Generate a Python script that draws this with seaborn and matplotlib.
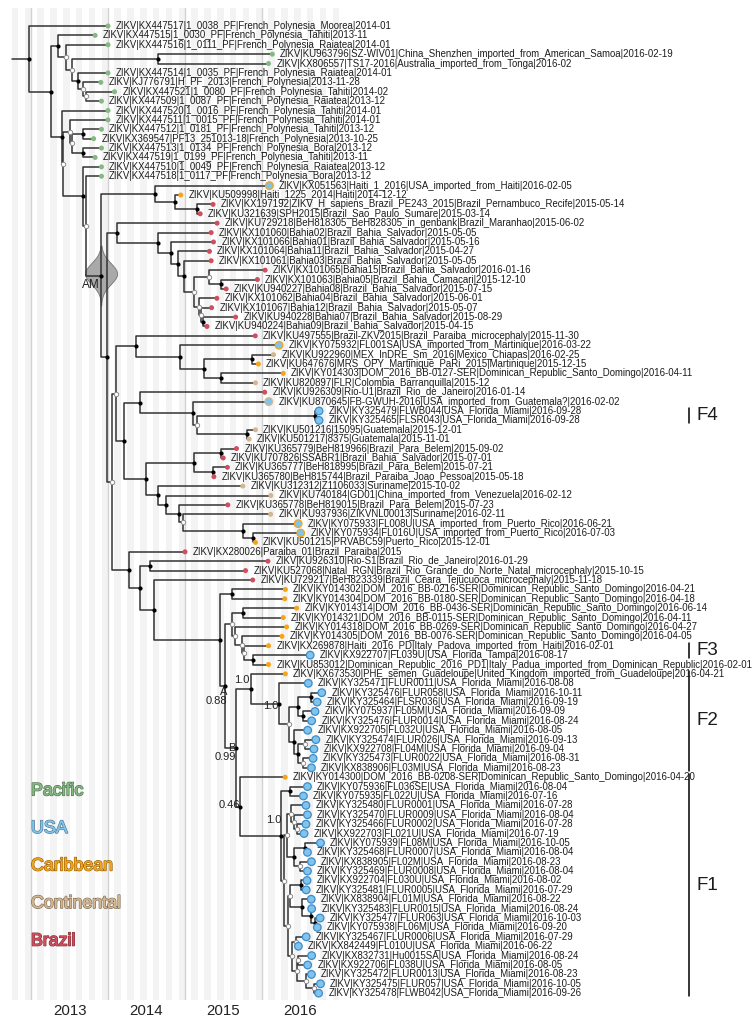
import re
import numpy as np
import pandas as pd
import matplotlib
matplotlib.use("Agg")
import matplotlib.pyplot as plt
import matplotlib.patheffects as pe
import matplotlib.transforms as mtrans
from matplotlib.colors import to_rgb
import seaborn as sns

# ---- tips (top to bottom) ----
tip_acc = [
    "KX447517", "KX447515", "KX447516", "KU963796", "KX806557", "KX447514", "KJ776791", "KX447521", "KX447509", "KX447520",
    "KX447511", "KX447512", "KX369547", "KX447513", "KX447519", "KX447510", "KX447518", "KX051563", "KU509998", "KX197192",
    "KU321639", "KU729218", "KX101060", "KX101066", "KX101064", "KX101061", "KX101065", "KX101063", "KU940227", "KX101062",
    "KX101067", "KU940228", "KU940224", "KU497555", "KY075932", "KU922960", "KU647676", "KY014303", "KU820897", "KU926309",
    "KU870645", "KY325479", "KY325465", "KU501216", "KU501217", "KU365779", "KU707826", "KU365777", "KU365780", "KU312312",
    "KU740184", "KU365778", "KU937936", "KY075933", "KY075934", "KU501215", "KX280026", "KU926310", "KU527068", "KU729217",
    "KY014302", "KY014304", "KY014314", "KY014321", "KY014318", "KY014305", "KX269878", "KX922707", "KU853012", "KX673530",
    "KY325471", "KY325476", "KY325464", "KY075937", "KY325476", "KX922705", "KY325474", "KX922708", "KY325473", "KX838906",
    "KY014300", "KY075936", "KY075935", "KY325480", "KY325470", "KY325466", "KX922703", "KY075939", "KY325468", "KX838905",
    "KY325469", "KX922704", "KY325481", "KX838904", "KY325483", "KY325477", "KY075938", "KY325467", "KX842449", "KX832731",
    "KX922706", "KY325472", "KY325475", "KY325478"]

tip_strain = [
    "1_0038_PF", "1_0030_PF", "1_0111_PF", "SZ-WIV01", "TS17-2016", "1_0035_PF", "H_PF_2013", "1_0080_PF", "1_0087_PF", "1_0016_PF",
    "1_0015_PF", "1_0181_PF", "PF13_251013-18", "1_0134_PF", "1_0199_PF", "1_0049_PF", "1_0117_PF", "Haiti_1_2016", "Haiti_1225_2014",
    "ZIKV_H_sapiens_Brazil_PE243_2015",
    "SPH2015", "BeH818305_BeH828305_in_genbank", "Bahia02", "Bahia01", "Bahia11", "Bahia03", "Bahia15", "Bahia05", "Bahia08", "Bahia04",
    "Bahia12", "Bahia07", "Bahia09", "Brazil-ZKV2015", "FL001SA", "MEX_InDRE_Sm_2016", "MRS_OPY_Martinique_PaRi_2015",
    "DOM_2016_BB-0127-SER", "FLR", "Rio-U1",
    "FB-GWUH-2016", "FLWB044", "FLSR043", "15095", "8375", "BeH819966", "SSABR1", "BeH818995", "BeH815744", "Z1106033",
    "GD01", "BeH819015", "ZIKVNL00013", "FL008U", "FL016U", "PRVABC59", "Paraiba_01", "Rio-S1", "Natal_RGN", "BeH823339",
    "DOM_2016_BB-0216-SER", "DOM_2016_BB-0180-SER", "DOM_2016_BB-0436-SER", "DOM_2016_BB-0115-SER", "DOM_2016_BB-0269-SER",
    "DOM_2016_BB-0076-SER", "Haiti_2016_PD", "FL039U", "Dominican_Republic_2016_PD1", "PHE_semen_Guadeloupe",
    "FLUR0011", "FLUR058", "FLSR036", "FL05M", "FLUR0014", "FL032U", "FLUR026", "FL04M", "FLUR0022", "FL03M",
    "DOM_2016_BB-0208-SER", "FL036SE", "FL022U", "FLUR0001", "FLUR0009", "FLUR0002", "FL021U", "FL08M", "FLUR0007", "FL02M",
    "FLUR0008", "FL030U", "FLUR0005", "FL01M", "FLUR0015", "FLUR063", "FL06M", "FLUR0006", "FL010U", "Hu0015SA",
    "FL038U", "FLUR0013", "FLUR057", "FLWB042"]

FP = "French_Polynesia"
MIA = "USA_Florida_Miami"
SDQ = "Dominican_Republic_Santo_Domingo"
BA = "Brazil_Bahia_Salvador"
tip_place = (
    [FP + "_Moorea", FP + "_Tahiti", FP + "_Raiatea", "China_Shenzhen_imported_from_American_Samoa",
     "Australia_imported_from_Tonga", FP + "_Raiatea", FP, FP + "_Tahiti", FP + "_Raiatea", FP + "_Tahiti",
     FP + "_Tahiti", FP + "_Tahiti", FP, FP + "_Bora", FP + "_Tahiti", FP + "_Raiatea", FP + "_Bora",
     "USA_imported_from_Haiti", "Haiti", "Brazil_Pernambuco_Recife",
     "Brazil_Sao_Paulo_Sumare", "Brazil_Maranhao", BA, BA, BA, BA, BA, "Brazil_Bahia_Camacari", BA, BA,
     BA, BA, BA, "Brazil_Paraiba_microcephaly", "USA_imported_from_Martinique", "Mexico_Chiapas", "Martinique", SDQ,
     "Colombia_Barranquilla", "Brazil_Rio_de_Janeiro",
     "USA_imported_from_Guatemala?", MIA, MIA, "Guatemala", "Guatemala", "Brazil_Para_Belem", BA, "Brazil_Para_Belem",
     "Brazil_Paraiba_Joao_Pessoa", "Suriname",
     "China_imported_from_Venezuela", "Brazil_Para_Belem", "Suriname", "USA_imported_from_Puerto_Rico",
     "USA_imported_from_Puerto_Rico", "Puerto_Rico", "Brazil_Paraiba", "Brazil_Rio_de_Janeiro",
     "Brazil_Rio_Grande_do_Norte_Natal_microcephaly", "Brazil_Ceara_Tejucuoca_microcephaly"]
    + [SDQ] * 6
    + ["Italy_Padova_imported_from_Haiti", "USA_Florida_Tampa", "Italy_Padua_imported_from_Dominican_Republic",
       "United_Kingdom_imported_from_Guadeloupe"]
    + [MIA] * 10 + [SDQ] + [MIA] * 23)

tip_date = [
    "2014-01", "2013-11", "2014-01", "2016-02-19", "2016-02", "2014-01", "2013-11-28", "2014-02", "2013-12", "2014-01",
    "2014-01", "2013-12", "2013-10-25", "2013-12", "2013-11", "2013-12", "2013-12", "2016-02-05", "2014-12-12", "2015-05-14",
    "2015-03-14", "2015-06-02", "2015-05-05", "2015-05-16", "2015-04-27", "2015-05-05", "2016-01-16", "2015-12-10", "2015-07-15", "2015-06-01",
    "2015-05-07", "2015-08-29", "2015-04-15", "2015-11-30", "2016-03-22", "2016-02-25", "2015-12-15", "2016-04-11", "2015-12", "2016-01-14",
    "2016-02-02", "2016-09-28", "2016-09-28", "2015-12-01", "2015-11-01", "2015-09-02", "2015-07-01", "2015-07-21", "2015-05-18", "2015-10-02",
    "2016-02-12", "2015-07-23", "2016-02-11", "2016-06-21", "2016-07-03", "2015-12-01", "2015", "2016-01-29", "2015-10-15", "2015-11-18",
    "2016-04-21", "2016-04-18", "2016-06-14", "2016-04-11", "2016-04-27", "2016-04-05", "2016-02-01", "2016-08-17", "2016-02-01", "2016-04-21",
    "2016-08-08", "2016-10-11", "2016-09-19", "2016-09-09", "2016-08-24", "2016-08-05", "2016-09-13", "2016-09-04", "2016-08-31", "2016-08-23",
    "2016-04-20", "2016-08-04", "2016-07-16", "2016-07-28", "2016-08-04", "2016-07-28", "2016-07-19", "2016-10-05", "2016-08-04", "2016-08-23",
    "2016-08-04", "2016-08-02", "2016-07-29", "2016-08-22", "2016-08-24", "2016-10-03", "2016-09-20", "2016-07-29", "2016-06-22", "2016-08-24",
    "2016-08-05", "2016-08-23", "2016-10-05", "2016-09-26"]

# P pacific, U usa, C caribbean, T continental, B brazil
tip_region = ("PPPPPPPPPPPPPPPPP" "UC" "BBBBBBBBBBBBBBB" "UTCCTBU" "UUTTBBBBTTBTUUC" "BBBB" "CCCCCC" "CUCC"
              "UUUUUUUUUU" "C" "UUUUUUUUUUUUUUUUUUUUUUU")
# USA travel cases: ring colour = where it came from
usa_import_from = {18: "C", 35: "C", 41: "T", 54: "C", 55: "C"}

# ---- tree: internal nodes are "<time><b|w>[#name]", b = well supported ----
u5 = "((84,(85,(86,87)2016.45w)2016.42w)2016.38w,((88,89)2016.56b,(90,91)2016.49w)2016.42b)2016.32w"
u6 = ("(((92,93)2016.51b,(94,(95,(96,97)2016.69b)2016.63b)2016.52b)2016.36w,"
      "((98,99)2016.44w,((100,101)2016.47w,(102,(103,104)2016.68w)2016.57w)2016.45w)2016.39w)2016.34w")
f1_clade = f"(81,((82,83)2016.36b,({u5},{u6})2016.29w)2016.25b#U2)2015.72b#U"
f2_clade = ("(70,(71,(((72,73)2016.63b,(74,75)2016.53b)2016.47b,"
            "(76,((77,78)2016.56w,(79,80)2016.53w)2016.47b)2016.41b)2016.35w)2016.22b#T2)2015.86b#T")
dr_clade = "((63,64)2015.75b,(65,(66,(67,(68,69)2015.88b)2015.77w)2015.74w)2015.65w)2015.61w"
carib = f"((61,62)2015.61b,({dr_clade},({f2_clade},{f1_clade})2015.66b#B)2015.52b#A)2015.45b"
g3 = f"(57,((58,59)2014.55b,(60,{carib})2014.60b)2014.41b)2014.27b"
d1 = "(40,(41,((42,43)2016.69b,(44,45)2015.81b)2015.15w)2015.10b)2014.42b"
e1 = ("(((46,47)2015.47b,(48,49)2015.36b)2015.12b,"
      "(50,(51,(52,(53,(54,(55,56)2015.88b)2015.75b)2014.98w)2014.92b)2014.75b)2014.65b)2014.49b")
c1 = "(34,(35,((36,37)2015.87b,(38,39)2015.47b)2015.25b)2014.94b)2014.36b"
g1 = f"(({c1},({d1},{e1})2014.21b)2014.11w,{g3})2014.05w"
bahia = ("(22,(23,(24,(25,(26,((27,(28,29)2015.47b)2015.31w,"
         "(30,(31,(32,33)2015.23b)2015.21w)2015.18w)2015.12w)2014.99b)2014.91b)2014.82b)2014.65b)2014.12b")
am = f"((18,(19,(20,21)2015.16b)2014.87b)2014.61b,({bahia},{g1})2013.99b)2013.91b#AM"
pacific = "(2,(3,((4,5)2014.65b,(6,(7,(8,9)2013.71w)2013.68w)2013.61b)2013.53w)2013.45w)2013.35b"
h = f"(10,((11,((12,13)2013.67b,(14,15)2013.67b)2013.53w)2013.51w,(16,(17,{am})2013.72w)2013.67b)2013.42w)2013.40b"
tree_str = f"(1,({pacific},{h})2013.26b)2012.97b"

clade_names = ["F4", "F3", "F2", "F1"]
clade_first = [42, 67, 70, 81]
clade_last = [43, 68, 80, 104]

node_label_at = ["A", "B", "U", "T", "T2", "U2"]
node_label_txt = ["A\n0.88", "B\n0.99", "0.46", "1.0", "1.0", "1.0"]

legend_names = ["Pacific", "USA", "Caribbean", "Continental", "Brazil"]
legend_codes = ["P", "U", "C", "T", "B"]

years = [2013, 2014, 2015, 2016]


def decimal_date(s):
    p = [int(v) for v in s.split("-")]
    if len(p) == 1:
        return float(p[0])
    d = pd.Timestamp(p[0], p[1], p[2] if len(p) == 3 else 1)
    ndays = 366 if d.is_leap_year else 365
    return p[0] + (d.dayofyear - 1) / ndays


def parse_tree(s):
    pos = 0

    def read():
        nonlocal pos
        if s[pos] == "(":
            pos += 1
            kids = [read()]
            while s[pos] == ",":
                pos += 1
                kids.append(read())
            pos += 1
            m = re.match(r"(\d+\.\d+)([bw])(?:#(\w+))?", s[pos:])
            pos += m.end()
            return dict(kids=kids, t=float(m.group(1)), good=m.group(2) == "b", name=m.group(3))
        m = re.match(r"\d+", s[pos:])
        pos += m.end()
        return dict(tip=int(m.group()))
    return read()


tip_x = [decimal_date(d) for d in tip_date]
root = parse_tree(tree_str)


def place(nd):
    if "tip" in nd:
        nd["x"], nd["y"] = tip_x[nd["tip"] - 1], float(nd["tip"])
    else:
        for k in nd["kids"]:
            place(k)
        nd["x"] = nd["t"]
        nd["y"] = np.mean([k["y"] for k in nd["kids"]])


place(root)

seg_rows, node_rows, named = [], [], {}


def collect(nd):
    if "tip" in nd:
        return
    node_rows.append((nd["x"], nd["y"], nd["good"]))
    if nd["name"]:
        named[nd["name"]] = nd
    for k in nd["kids"]:
        sid = len(seg_rows)
        seg_rows.extend([(nd["x"], nd["y"], sid), (nd["x"], k["y"], sid), (k["x"], k["y"], sid)])
        collect(k)


collect(root)
sid = len(seg_rows)
seg_rows.extend([(root["x"] - 0.22, root["y"], sid), (root["x"], root["y"], sid)])
branches = pd.DataFrame(seg_rows, columns=["x", "y", "seg"])
nodes = pd.DataFrame(node_rows, columns=["x", "y", "good"])

tips = pd.DataFrame({"x": tip_x, "y": np.arange(1, len(tip_x) + 1), "region": list(tip_region)})
tips["label"] = ["ZIKV|%s|%s|%s|%s" % r for r in zip(tip_acc, tip_strain, tip_place, tip_date)]

fill = {"P": "#84b982", "U": "#80c4ec", "C": "#f6a418", "T": "#d4b68f", "B": "#d04f5e"}
usa_edge = "#3c8ccb"
tips["edge"] = [fill[usa_import_from[i + 1]] if (i + 1) in usa_import_from else usa_edge
                for i in range(len(tips))]

# ---- figure ----
sns.set_theme(style="white")
plt.rcParams["font.family"] = ["Liberation Sans", "DejaVu Sans"]

W, H = 752, 1026
fig = plt.figure(figsize=(W / 100, H / 100), dpi=100)
ax = fig.add_axes([0, 26 / H, 1, 992 / H])
px_year, x2013 = 77.0, 31.0
row_px, first_px = 9.39, 26.0
ax.set_xlim(2013 - x2013 / px_year, 2013 + (W - x2013) / px_year)
ax.set_ylim(1 + (1000 - first_px) / row_px, 1 - (first_px - 8) / row_px)

# month stripes and year lines
for k in range(51):
    m0 = 2012.75 + k / 12
    if k % 2 == 0:
        ax.axvspan(m0, m0 + 1 / 12, color="#f3f3f3", lw=0, zorder=0)
for yr in years:
    ax.axvline(yr, color="#d2d2d2", lw=1.0, zorder=0.5)

# AM age density, drawn as a spindle around the node
am_node = named["AM"]
dy_px = np.linspace(-30, 30, 121)
half_w = 16 * np.exp(-0.5 * ((dy_px + 2) / 10.5) ** 2) / px_year
yy = am_node["y"] + dy_px / row_px
ax.fill_betweenx(yy, am_node["x"] - half_w, am_node["x"] + half_w,
                 facecolor="#a9a9a9", edgecolor="#737373", lw=0.6, zorder=1)

sns.lineplot(data=branches, x="x", y="y", units="seg", estimator=None, sort=False,
             color="#333333", linewidth=1.1, ax=ax, legend=False, zorder=2)

sns.scatterplot(data=nodes[nodes.good], x="x", y="y", color="black", s=9, linewidth=0,
                ax=ax, legend=False, zorder=4)
sns.scatterplot(data=nodes[~nodes.good], x="x", y="y", color="white", edgecolor="#8c8c8c",
                s=10, linewidth=0.7, ax=ax, legend=False, zorder=4)

small = tips[tips.region != "U"]
usa = tips[tips.region == "U"]
sns.scatterplot(data=small, x="x", y="y", hue="region", palette=fill, s=13, linewidth=0,
                ax=ax, legend=False, zorder=5)
sns.scatterplot(data=usa, x="x", y="y", color=fill["U"], edgecolor=usa["edge"].tolist(),
                s=30, linewidth=0.9, ax=ax, legend=False, zorder=5)

for _, r in tips.iterrows():
    ax.annotate(r["label"], (r["x"], r["y"]), xytext=(7.0 if r["region"] == "U" else 5.6, 0),
                textcoords="offset points", ha="left", va="center", fontsize=6.9, color="#1c1c1c")

ax.annotate("AM", (am_node["x"], am_node["y"]), xytext=(-1.0, -6.5), textcoords="offset points",
            ha="right", va="center", fontsize=8.5, color="#222222", zorder=6)

label_shift = {"A": (1.5, -7.6), "B": (0.0, -3.6), "U": (0.0, 1.4), "T": (-1.1, 6.2), "T2": (0.0, -1.7),
               "U2": (0.0, 11.5)}
for nm, txt in zip(node_label_at, node_label_txt):
    nd = named[nm]
    ax.annotate(txt, (nd["x"], nd["y"]), xytext=label_shift[nm], textcoords="offset points",
                ha="right", va="center", multialignment="right", fontsize=8, linespacing=0.92,
                color="#222222", zorder=6)

# clade bars on the right
bar = mtrans.blended_transform_factory(ax.transAxes, ax.transData)
for name, a, b in zip(clade_names, clade_first, clade_last):
    ax.plot([689 / W, 689 / W], [a - 0.3, b + 0.3], color="black", lw=1.1, transform=bar)
    ax.text(697 / W, (a + b) / 2, name, transform=bar, ha="left", va="center", fontsize=13.5, color="#1c1c1c")

# region legend
for i, (name, code) in enumerate(zip(legend_names, legend_codes)):
    c = fill[code]
    dark = tuple(v * 0.6 for v in to_rgb(c))
    t = ax.text(2013.0, 82.45 + 4.0 * i, name, ha="left", va="center", fontsize=12.8, color=c)
    t.set_path_effects([pe.withStroke(linewidth=1.1, foreground=dark), pe.Normal()])

ax.set_xticks([y + 0.5 for y in years])
ax.set_xticklabels([str(y) for y in years])
ax.tick_params(axis="x", length=0, labelsize=10.8, pad=3, colors="#222222")
ax.set_yticks([])
ax.set_xlabel("")
ax.set_ylabel("")
for s in ax.spines.values():
    s.set_visible(False)

fig.savefig("out.png", dpi=100)
